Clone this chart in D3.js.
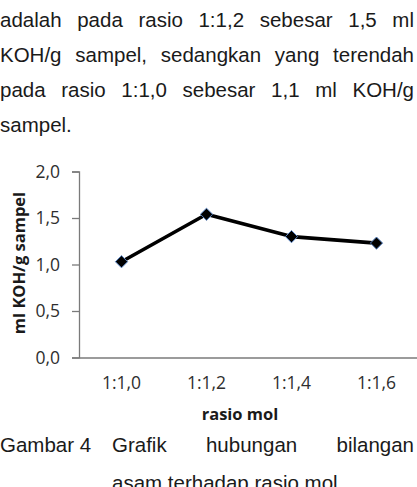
<!DOCTYPE html>
<html><head><meta charset="utf-8">
<script src="https://cdn.jsdelivr.net/npm/d3@7"></script>
<style>
html,body{margin:0;padding:0;background:#fff;}
svg{display:block;}
</style></head>
<body>
<svg id="c" width="417" height="487"></svg>
<script>
const categories = ["1:1,0", "1:1,2", "1:1,4", "1:1,6"];
const values = [1.03, 1.54, 1.30, 1.23];
const yTicks = [0, 0.5, 1.0, 1.5, 2.0];
const yTickLabels = ["0,0", "0,5", "1,0", "1,5", "2,0"];
const xTitle = "rasio mol";
const yTitle = "ml KOH/g sampel";
const paragraphLines = [
  "adalah pada rasio 1:1,2 sebesar 1,5 ml",
  "KOH/g sampel, sedangkan yang terendah",
  "pada rasio 1:1,0 sebesar 1,1 ml KOH/g",
  "sampel."
];
const captionLabel = "Gambar 4";
const captionLine1 = "Grafik hubungan bilangan";
const captionLine2 = "asam terhadap rasio mol";

const svg = d3.select("#c");
const bodyFont = "'Liberation Sans', Arial, sans-serif";
const bodySize = 20.5;
const chartFont = "'Open Sans', sans-serif";

function justifyLine(text, x0, x1, y, justify) {
  const words = text.split(" ");
  const g = svg.append("g");
  const nodes = words.map(w => g.append("text")
    .attr("y", y).attr("font-family", bodyFont).attr("font-size", bodySize)
    .attr("fill", "#1a1a1a").text(w));
  const widths = nodes.map(n => n.node().getComputedTextLength());
  const total = d3.sum(widths);
  const gap = (justify && words.length > 1) ? (x1 - x0 - total) / (words.length - 1) : bodySize * 0.28;
  let x = x0;
  nodes.forEach((n, i) => { n.attr("x", x); x += widths[i] + gap; });
}
const lineBase = [27, 62, 97, 132];
paragraphLines.forEach((l, i) => justifyLine(l, 0, 414, lineBase[i], i < paragraphLines.length - 1));

// chart
const x = d3.scaleBand().domain(categories).range([79, 419]).padding(0);
const y = d3.scaleLinear().domain([0, 2]).range([357.5, 171.5]);

const yAxis = d3.axisLeft(y).tickValues(yTicks).tickSize(7).tickPadding(12)
  .tickFormat((d, i) => yTickLabels[i]);
const gy = svg.append("g").attr("transform", "translate(79,0)").call(yAxis);
gy.select(".domain").attr("stroke", "#7a7a7a").attr("stroke-width", 1.3);
gy.selectAll(".tick line").attr("stroke", "#7a7a7a").attr("stroke-width", 1.3);
gy.selectAll(".tick text").attr("font-family", chartFont).attr("font-size", 17.5)
  .attr("fill", "#2e2e2e");

const xAxis = d3.axisBottom(x).tickSize(0).tickPadding(19);
const gx = svg.append("g").attr("transform", `translate(0,${y(0)})`).call(xAxis);
gx.select(".domain").attr("stroke", "#7a7a7a").attr("stroke-width", 1.3);
gx.selectAll(".tick text").attr("font-family", chartFont).attr("font-size", 17.5)
  .attr("fill", "#2e2e2e");

const data = categories.map((c, i) => ({ c, v: values[i] }));
const line = d3.line().x(d => x(d.c) + x.bandwidth() / 2).y(d => y(d.v));
svg.append("path").datum(data).attr("d", line)
  .attr("fill", "none").attr("stroke", "#000").attr("stroke-width", 3.6)
  .attr("stroke-linejoin", "round");

svg.selectAll(".pt").data(data).join("path").attr("class", "pt")
  .attr("transform", d => `translate(${x(d.c) + x.bandwidth() / 2},${y(d.v)})`)
  .attr("d", d3.symbol().type(d3.symbolDiamond2).size(95))
  .attr("fill", "#000").attr("stroke", "#5b86c5").attr("stroke-width", 1);

svg.append("text").attr("x", 240).attr("y", 420).attr("text-anchor", "middle")
  .attr("font-family", chartFont).attr("font-size", 16.5).attr("font-weight", "bold")
  .attr("fill", "#1a1a1a").text(xTitle);

svg.append("text").attr("transform", "translate(25,263) rotate(-90)")
  .attr("text-anchor", "middle")
  .attr("font-family", chartFont).attr("font-size", 16.5).attr("font-weight", "bold")
  .attr("fill", "#1a1a1a").text(yTitle);

// caption
svg.append("text").attr("x", 0).attr("y", 452).attr("font-family", bodyFont)
  .attr("font-size", bodySize).attr("fill", "#1a1a1a").text(captionLabel);
justifyLine(captionLine1, 112, 414, 452, true);
svg.append("text").attr("x", 112).attr("y", 490).attr("font-family", bodyFont)
  .attr("font-size", bodySize).attr("fill", "#1a1a1a").text(captionLine2);
</script>
</body></html>
